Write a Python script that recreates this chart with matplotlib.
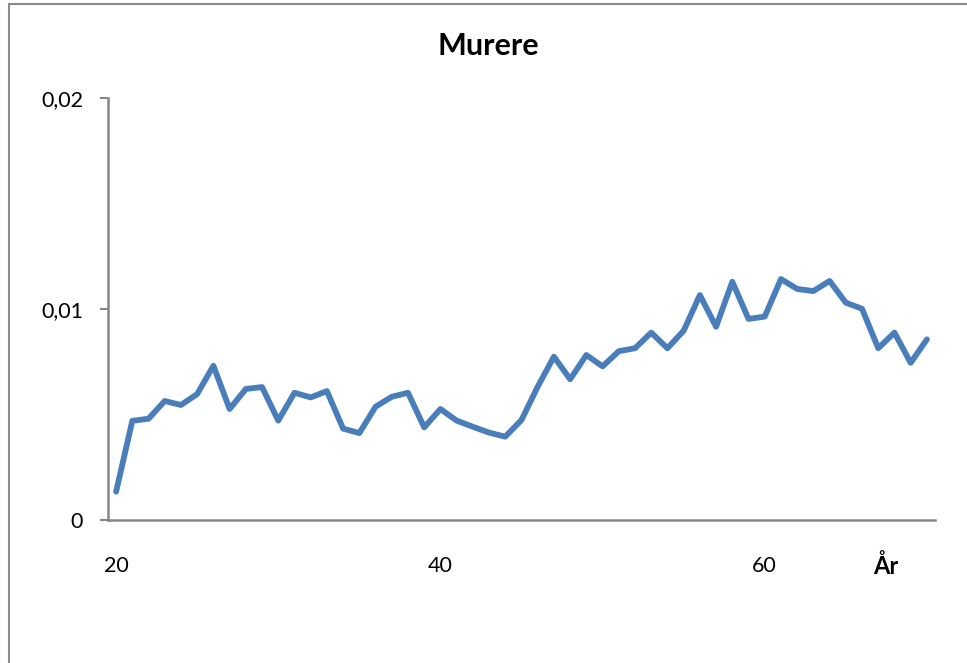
import numpy as np
import matplotlib
matplotlib.use("Agg")
import matplotlib.pyplot as plt
from matplotlib.patches import Rectangle

# Murere: share per age
ages = list(range(20, 71))
share = [0.00134, 0.00470, 0.00480, 0.00564, 0.00545, 0.00597, 0.00731, 0.00526,
         0.00621, 0.00630, 0.00471, 0.00603, 0.00581, 0.00611, 0.00433, 0.00412,
         0.00537, 0.00584, 0.00603, 0.00439, 0.00526, 0.00471, 0.00442, 0.00414,
         0.00395, 0.00474, 0.00632, 0.00774, 0.00667, 0.00782, 0.00728, 0.00800,
         0.00814, 0.00888, 0.00814, 0.00897, 0.01066, 0.00916, 0.01129, 0.00953,
         0.00964, 0.01142, 0.01095, 0.01085, 0.01133, 0.01030, 0.01001, 0.00814,
         0.00888, 0.00745, 0.00856]
x_ticks = [20, 40, 60]
y_ticks = [0, 0.01, 0.02]
y_labels = ["0", "0,01", "0,02"]

plt.rcParams['font.family'] = ['Lato', 'DejaVu Sans']

fig = plt.figure(figsize=(9.67, 6.63), dpi=100)
ax = fig.add_axes([108 / 967, 1 - 520 / 663, 827 / 967, 422 / 663])

# chart border (only left/top visible in the reference)
fig.patches.append(Rectangle((8.5 / 967, -0.1), 1.2, 1 - 4.5 / 663 + 0.1,
                             transform=fig.transFigure, fill=False,
                             edgecolor="#8c8c8c", linewidth=1.5))

ax.plot(ages, share, color="#4a7ebb", linewidth=4.2, solid_joinstyle="round",
        solid_capstyle="round")

ax.set_xlim(19.5, 70.5)
ax.set_ylim(0, 0.02)
ax.set_yticks(y_ticks)
ax.set_yticklabels(y_labels, fontsize=15.5)
ax.set_xticks(x_ticks)
ax.set_xticklabels([str(t) for t in x_ticks], fontsize=15.5)
ax.tick_params(axis="x", length=0, pad=26)
ax.tick_params(axis="y", length=6, width=1.5, color="#868686", pad=12)

for side in ["top", "right"]:
    ax.spines[side].set_visible(False)
for side in ["left", "bottom"]:
    ax.spines[side].set_color("#868686")
    ax.spines[side].set_linewidth(1.8)

fig.text(488 / 967, 1 - 46 / 663, "Murere", ha="center", va="center",
         fontsize=22, fontweight="bold")
fig.text(886 / 967, 1 - 566 / 663, "År", ha="center", va="center",
         fontsize=17, fontweight="bold")

fig.savefig("out.png", dpi=100)
